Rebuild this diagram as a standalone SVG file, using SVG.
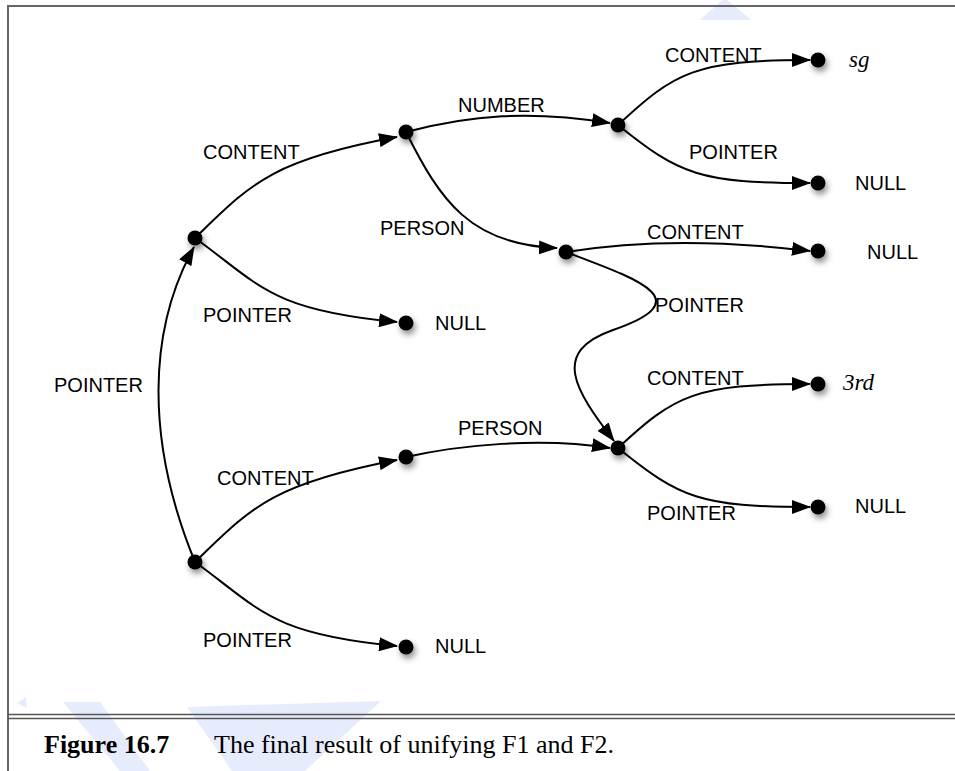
<svg xmlns="http://www.w3.org/2000/svg" width="955" height="771" viewBox="0 0 955 771">
<defs>
<style>
.edge{fill:none;stroke:#000;stroke-width:2;marker-end:url(#arr)}
.node{fill:#000;filter:url(#sh)}
.lbl{font-family:"Liberation Sans",Arial,sans-serif;font-size:20px;fill:#000}
.val{font-family:"Liberation Serif","Times New Roman",serif;font-style:italic;font-size:23px;fill:#000}
.cap{font-family:"Liberation Serif","Times New Roman",serif;font-size:26px;fill:#000}
.frame{stroke:#666;stroke-width:2;fill:none}
.wm{fill:#e6ecfc}
</style>
<marker id="arr" markerUnits="userSpaceOnUse" viewBox="0 0 19 14" markerWidth="19" markerHeight="14" refX="18" refY="7" orient="auto">
<path d="M0,0 L19,7 L0,14 z" fill="#000"/>
</marker>
<filter id="sh" x="-100%" y="-100%" width="300%" height="300%">
<feDropShadow dx="2" dy="4" stdDeviation="3" flood-color="#000" flood-opacity="0.45"/>
</filter>
</defs>
<rect width="955" height="771" fill="#fff"/>
<g id="watermark">
<polygon class="wm" points="725,-2 700,20 751,20"/>
<polygon class="wm" points="17,703 26,697 27,708"/>
<polygon class="wm" points="63,702 100,702 150,771 120,771"/>
<polygon class="wm" points="187,707 381,701 305,771 232,771"/>
</g>
<g id="frame">
<line class="frame" x1="8" y1="6" x2="955" y2="6"/>
<line class="frame" x1="8" y1="5" x2="8" y2="771"/>
<line x1="8" y1="714.5" x2="955" y2="714.5" stroke="#555" stroke-width="1.5"/>
<line x1="8" y1="718.5" x2="955" y2="718.5" stroke="#555" stroke-width="1.5"/>
</g>
<g id="connectors">
<path class="edge" d="M195,562 C145,440 148,330 194,247"/>
<path class="edge" d="M195,238 C250,185 270,160 397,137"/>
<path class="edge" d="M195,238 C260,285 270,310 397,322"/>
<path class="edge" d="M195,562 C250,509 270,484 397,460"/>
<path class="edge" d="M195,562 C260,609 270,634 397,646"/>
<path class="edge" d="M406,132 C470,115 530,110 610,123"/>
<path class="edge" d="M406,132 C440,200 470,245 557,248"/>
<path class="edge" d="M618,125 C675,72 695,60 810,60"/>
<path class="edge" d="M618,125 C680,175 700,183 810,183"/>
<path class="edge" d="M566,252 C640,240 720,240 810,251"/>
<path class="edge" d="M566,252 C640,280 700,300 613,330 C550,352 575,390 614,441"/>
<path class="edge" d="M406,457 C460,445 540,437 610,448"/>
<path class="edge" d="M618,448 C675,395 695,384 810,384"/>
<path class="edge" d="M618,448 C680,498 700,507 810,507"/>
</g>
<g id="edge-labels">
<text class="lbl" x="54" y="392">POINTER</text>
<text class="lbl" x="203" y="159">CONTENT</text>
<text class="lbl" x="203" y="322">POINTER</text>
<text class="lbl" x="217" y="485">CONTENT</text>
<text class="lbl" x="203" y="647">POINTER</text>
<text class="lbl" x="458" y="112">NUMBER</text>
<text class="lbl" x="380" y="235">PERSON</text>
<text class="lbl" x="665" y="62">CONTENT</text>
<text class="lbl" x="689" y="159">POINTER</text>
<text class="lbl" x="647" y="239">CONTENT</text>
<text class="lbl" x="655" y="312">POINTER</text>
<text class="lbl" x="647" y="385">CONTENT</text>
<text class="lbl" x="458" y="435">PERSON</text>
<text class="lbl" x="647" y="520">POINTER</text>
</g>
<g id="nA"><circle class="node" cx="195" cy="238" r="7.5"/></g>
<g id="nB"><circle class="node" cx="195" cy="562" r="7.5"/></g>
<g id="nC"><circle class="node" cx="406" cy="132" r="7.5"/></g>
<g id="nD"><circle class="node" cx="406" cy="323" r="7.5"/><text class="lbl" x="435" y="330">NULL</text></g>
<g id="nE"><circle class="node" cx="618" cy="125" r="7.5"/></g>
<g id="nF"><circle class="node" cx="818" cy="60" r="7.5"/><text class="val" x="849" y="67">sg</text></g>
<g id="nG"><circle class="node" cx="818" cy="183" r="7.5"/><text class="lbl" x="855" y="190">NULL</text></g>
<g id="nH"><circle class="node" cx="566" cy="252" r="7.5"/></g>
<g id="nI"><circle class="node" cx="818" cy="251" r="7.5"/><text class="lbl" x="867" y="259">NULL</text></g>
<g id="nJ"><circle class="node" cx="618" cy="448" r="7.5"/></g>
<g id="nK"><circle class="node" cx="818" cy="384" r="7.5"/><text class="val" x="843" y="390">3rd</text></g>
<g id="nL"><circle class="node" cx="818" cy="507" r="7.5"/><text class="lbl" x="855" y="513">NULL</text></g>
<g id="nM"><circle class="node" cx="406" cy="457" r="7.5"/></g>
<g id="nN"><circle class="node" cx="406" cy="647" r="7.5"/><text class="lbl" x="435" y="653">NULL</text></g>
<g id="caption">
<text class="cap" x="44" y="753" font-weight="bold">Figure 16.7</text>
<text class="cap" x="214" y="753">The final result of unifying F1 and F2.</text>
</g>
</svg>
